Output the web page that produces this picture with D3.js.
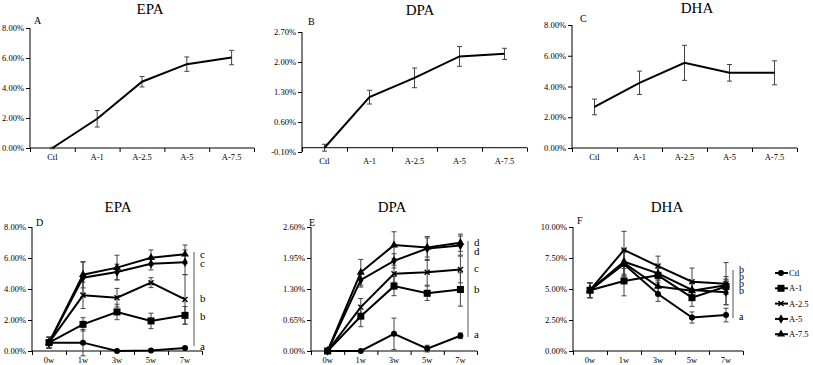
<!DOCTYPE html>
<html><head><meta charset="utf-8">
<script src="https://cdnjs.cloudflare.com/ajax/libs/d3/7.8.5/d3.min.js"></script>
<style>body{margin:0;background:#fff}svg{display:block}text{font-family:"Liberation Serif","Times New Roman",serif;fill:#000}</style>
</head><body><svg id="c" width="813" height="365"></svg>
<script>
// ---------- data ----------
const doseCats = ["Ctl","A-1","A-2.5","A-5","A-7.5"];
const epaDose = [0, 1.95, 4.42, 5.59, 6.03];
const epaDoseErr = [0.05, 0.55, 0.35, 0.48, 0.48];
const dpaDose = [0, 1.18, 1.63, 2.13, 2.19];
const dpaDoseErr = [0.08, 0.16, 0.23, 0.23, 0.13];
const dhaDose = [2.67, 4.24, 5.54, 4.89, 4.89];
const dhaDoseErr = [0.51, 0.76, 1.14, 0.54, 0.78];

const weeks = ["0w","1w","3w","5w","7w"];
const seriesNames = ["Ctl","A-1","A-2.5","A-5","A-7.5"];

const epaCtl  = [0.54, 0.54, 0.00, 0.04, 0.19];
const epaA1   = [0.54, 1.72, 2.52, 1.94, 2.30];
const epaA25  = [0.54, 3.59, 3.44, 4.41, 3.33];
const epaA5   = [0.54, 4.73, 5.10, 5.63, 5.72];
const epaA75  = [0.54, 4.92, 5.38, 6.02, 6.24];
const epaCtlErr = [0.35, 0.85, 0.05, 0.05, 0.06];
const epaA1Err  = [0.35, 0.43, 0.50, 0.50, 0.57];
const epaA25Err = [0.35, 0.85, 0.60, 0.32, 1.60];
const epaA5Err  = [0.35, 1.00, 0.50, 0.40, 0.80];
const epaA75Err = [0.35, 0.85, 0.80, 0.50, 0.60];

const dpaCtl  = [0, 0.00, 0.36, 0.05, 0.32];
const dpaA1   = [0, 0.73, 1.36, 1.21, 1.29];
const dpaA25  = [0, 0.92, 1.62, 1.65, 1.71];
const dpaA5   = [0, 1.49, 1.89, 2.15, 2.21];
const dpaA75  = [0, 1.65, 2.22, 2.17, 2.27];
const dpaCtlErr = [0.02, 0.01, 0.33, 0.07, 0.06];
const dpaA1Err  = [0.02, 0.22, 0.20, 0.15, 0.35];
const dpaA25Err = [0.02, 0.18, 0.18, 0.27, 0.28];
const dpaA5Err  = [0.02, 0.15, 0.15, 0.25, 0.20];
const dpaA75Err = [0.02, 0.27, 0.28, 0.20, 0.18];

const dhaCtl  = [4.9, 7.00, 4.60, 2.70, 2.90];
const dhaA1   = [4.9, 5.65, 6.10, 4.30, 5.20];
const dhaA25  = [4.9, 8.15, 6.85, 5.59, 5.43];
const dhaA5   = [4.9, 7.20, 6.26, 4.92, 4.73];
const dhaA75  = [4.9, 7.10, 5.20, 4.85, 5.30];
const dhaCtlErr = [0.6, 1.0, 0.6, 0.45, 0.55];
const dhaA1Err  = [0.6, 1.2, 0.6, 0.70, 0.60];
const dhaA25Err = [0.6, 1.5, 0.8, 1.10, 1.70];
const dhaA5Err  = [0.6, 1.0, 0.6, 0.60, 1.00];
const dhaA75Err = [0.6, 1.0, 0.6, 0.60, 0.70];

const epaDoseTicks = [0, 2, 4, 6, 8];
const dpaDoseTicks = [-0.1, 0.6, 1.3, 2.0, 2.7];
const dhaDoseTicks = [0, 2, 4, 6, 8];
const epaTimeTicks = [0, 2, 4, 6, 8];
const dpaTimeTicks = [0, 0.65, 1.3, 1.95, 2.6];
const dhaTimeTicks = [0, 2.5, 5, 7.5, 10];

const epaLetters = ["c","c","b","b","a"];
const dpaLetters = ["d","d","c","b","a"];
const dhaLetters = ["b","b","b","b","a"];

// ---------- drawing ----------
const svg = d3.select("#c");
const fmt = v => v.toFixed(2) + "%";

function axes(g, x, y, ticks, baseVal) {
  const [x0, x1] = x.range();
  const y0 = y(baseVal);
  const yA = d3.axisLeft(y).tickValues(ticks).tickFormat(fmt).tickSize(4).tickPadding(2);
  const ga = g.append("g").attr("transform", `translate(${x0},0)`).call(yA);
  ga.select(".domain").remove();
  ga.selectAll("line").attr("stroke", "#000");
  ga.selectAll("text").attr("fill", "#000").style("font-size", "8.5px").style("font-family", '"Liberation Serif",serif');
  g.append("line").attr("x1", x0).attr("x2", x0).attr("y1", y.range()[0]).attr("y2", y.range()[1]).attr("stroke", "#000");
  const xb = d3.scaleLinear().domain([0, x.domain().length]).range([x0, x1]);
  g.append("line").attr("x1", x0).attr("x2", x1).attr("y1", y0).attr("y2", y0).attr("stroke", "#000");
  const xa = d3.axisBottom(xb).tickValues(d3.range(0, x.domain().length + 1)).tickFormat("").tickSize(4);
  const gx = g.append("g").attr("transform", `translate(0,${y0})`).call(xa);
  gx.select(".domain").remove();
  gx.selectAll("line").attr("stroke", "#000");
  g.selectAll(null).data(x.domain()).join("text")
    .attr("x", d => x(d) + x.bandwidth() / 2).attr("y", y(y.domain()[0]) + 12)
    .attr("text-anchor", "middle").style("font-size", "8.5px").text(d => d);
}

function errBars(g, x, y, vals, errs) {
  vals.forEach((v, i) => {
    const cx = x(x.domain()[i]) + x.bandwidth() / 2;
    const a = y(v - errs[i]), b = y(v + errs[i]);
    g.append("line").attr("x1", cx).attr("x2", cx).attr("y1", a).attr("y2", b).attr("stroke", "#444").attr("stroke-width", 1);
    [a, b].forEach(yy => g.append("line").attr("x1", cx - 2.5).attr("x2", cx + 2.5).attr("y1", yy).attr("y2", yy).attr("stroke", "#444").attr("stroke-width", 1));
  });
}

function lineOf(g, x, y, vals) {
  const line = d3.line().x((d, i) => x(x.domain()[i]) + x.bandwidth() / 2).y(d => y(d));
  g.append("path").attr("d", line(vals)).attr("fill", "none").attr("stroke", "#000").attr("stroke-width", 2);
}

function marker(g, type, cx, cy) {
  if (type === 0) g.append("circle").attr("cx", cx).attr("cy", cy).attr("r", 3).attr("fill", "#000");
  else if (type === 1) g.append("rect").attr("x", cx - 3.5).attr("y", cy - 3.5).attr("width", 7).attr("height", 7).attr("fill", "#000");
  else if (type === 2) {
    g.append("path").attr("d", `M${cx-2.5},${cy-2.5}L${cx+2.5},${cy+2.5}M${cx-2.5},${cy+2.5}L${cx+2.5},${cy-2.5}`).attr("stroke", "#000").attr("stroke-width", 1.4);
  } else if (type === 3) g.append("path").attr("d", d3.symbol(d3.symbolDiamond, 26)()).attr("transform", `translate(${cx},${cy})`).attr("fill", "#000");
  else g.append("path").attr("d", d3.symbol(d3.symbolTriangle, 28)()).attr("transform", `translate(${cx},${cy})`).attr("fill", "#000");
}

function panel(opt) {
  const g = svg.append("g");
  const x = d3.scaleBand().domain(opt.cats).range(opt.xr).padding(0);
  const y = d3.scaleLinear().domain([opt.ticks[0], opt.ticks[opt.ticks.length - 1]]).range(opt.yr);
  axes(g, x, y, opt.ticks, opt.base);
  g.append("text").attr("x", opt.title[1]).attr("y", opt.title[2]).attr("text-anchor", "middle").style("font-size", "15px").text(opt.title[0]);
  g.append("text").attr("x", opt.label[1]).attr("y", opt.label[2]).style("font-size", "10px").text(opt.label[0]);
  opt.series.forEach(s => errBars(g, x, y, s.v, s.e));
  opt.series.forEach(s => lineOf(g, x, y, s.v));
  if (opt.markers) opt.series.forEach((s, k) => s.v.forEach((v, i) => marker(g, k, x(x.domain()[i]) + x.bandwidth() / 2, y(v))));
  if (opt.letters) {
    const L = opt.letters;
    g.append("line").attr("x1", L.lx).attr("x2", L.lx).attr("y1", L.y1).attr("y2", L.y2).attr("stroke", "#555").attr("stroke-width", 1);
    L.t.forEach((t, i) => g.append("text").attr("x", L.lx + 6).attr("y", L.ys[i]).style("font-size", L.fs || "11px").text(t));
  }
  return g;
}

panel({cats: doseCats, xr: [30, 254], yr: [148, 28], ticks: epaDoseTicks, base: 0,
  title: ["EPA", 150, 14], label: ["A", 34, 24], series: [{v: epaDose, e: epaDoseErr}]});
panel({cats: doseCats, xr: [302, 527], yr: [152, 32], ticks: dpaDoseTicks, base: 0,
  title: ["DPA", 420, 15], label: ["B", 308, 25], series: [{v: dpaDose, e: dpaDoseErr}]});
panel({cats: doseCats, xr: [572, 797], yr: [148, 25], ticks: dhaDoseTicks, base: 0,
  title: ["DHA", 697, 13], label: ["C", 580, 22], series: [{v: dhaDose, e: dhaDoseErr}]});

panel({cats: weeks, xr: [32, 202], yr: [351, 227], ticks: epaTimeTicks, base: 0, markers: true,
  title: ["EPA", 118, 212], label: ["D", 36, 226],
  series: [{v: epaCtl, e: epaCtlErr}, {v: epaA1, e: epaA1Err}, {v: epaA25, e: epaA25Err}, {v: epaA5, e: epaA5Err}, {v: epaA75, e: epaA75Err}],
  letters: {lx: 194, y1: 252, y2: 346, t: epaLetters, ys: [258, 267, 302, 320, 350]}});
panel({cats: weeks, xr: [311, 477], yr: [351, 227], ticks: dpaTimeTicks, base: 0, markers: true,
  title: ["DPA", 392, 212], label: ["E", 309, 226],
  series: [{v: dpaCtl, e: dpaCtlErr}, {v: dpaA1, e: dpaA1Err}, {v: dpaA25, e: dpaA25Err}, {v: dpaA5, e: dpaA5Err}, {v: dpaA75, e: dpaA75Err}],
  letters: {lx: 468, y1: 241, y2: 337, t: dpaLetters, ys: [246, 255, 272, 293, 338]}});
panel({cats: weeks, xr: [573, 743], yr: [351, 227], ticks: dhaTimeTicks, base: 0, markers: true,
  title: ["DHA", 667, 212], label: ["F", 577, 224],
  series: [{v: dhaCtl, e: dhaCtlErr}, {v: dhaA1, e: dhaA1Err}, {v: dhaA25, e: dhaA25Err}, {v: dhaA5, e: dhaA5Err}, {v: dhaA75, e: dhaA75Err}],
  letters: {lx: 733, y1: 270, y2: 318, t: dhaLetters, ys: [273, 280, 287, 294, 320], fs: "10px"}});

// legend
const leg = svg.append("g");
seriesNames.forEach((n, i) => {
  const yy = 273 + i * 15.3;
  leg.append("line").attr("x1", 775).attr("x2", 788).attr("y1", yy).attr("y2", yy).attr("stroke", "#000").attr("stroke-width", 2);
  marker(leg, i, 781, yy);
  leg.append("text").attr("x", 789).attr("y", yy + 3).style("font-size", "8.5px").text(n);
});
</script></body></html>
